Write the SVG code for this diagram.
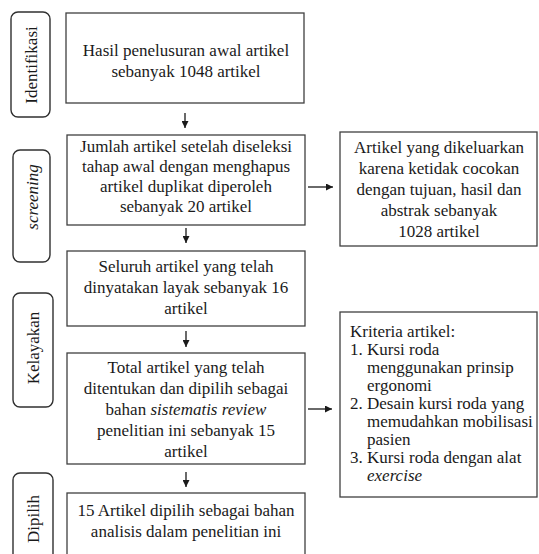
<svg xmlns="http://www.w3.org/2000/svg" width="539" height="554" viewBox="0 0 539 554">
<style>
.box{fill:#fff;stroke:#404040;stroke-width:1.3}
.stage{fill:#fff;stroke:#303030;stroke-width:1.4}
.t{font-family:'Liberation Serif',serif;font-size:17px;fill:#1a1a1a}
.c{text-anchor:middle}
.ln{stroke:#1a1a1a;stroke-width:1.3;fill:none}
</style>
<defs>
<marker id="ah" viewBox="0 0 10 10" refX="10" refY="5" markerWidth="7" markerHeight="7" markerUnits="userSpaceOnUse" orient="auto">
<path d="M0,0 L10,5 L0,10 z" fill="#1a1a1a"/>
</marker>
</defs>
<rect width="539" height="554" fill="#fff"/>
<g id="stage-identifikasi">
<rect class="stage" x="11" y="12" width="39" height="105" rx="7"/>
<text class="t c" transform="translate(37,65) rotate(-90)">Identifikasi</text>
</g>
<g id="stage-screening">
<rect class="stage" x="13" y="150" width="37" height="112" rx="7"/>
<text class="t c" font-style="italic" transform="translate(38,197) rotate(-90)">screening</text>
</g>
<g id="stage-kelayakan">
<rect class="stage" x="13" y="293" width="40" height="114" rx="7"/>
<text class="t c" transform="translate(39,348) rotate(-90)">Kelayakan</text>
</g>
<g id="stage-dipilih">
<rect class="stage" x="13" y="473" width="40" height="100" rx="7"/>
<text class="t c" transform="translate(39,519) rotate(-90)">Dipilih</text>
</g>

<g id="box1">
<rect class="box" x="66" y="13" width="238" height="90"/>
<text class="t c" x="186" y="56">Hasil penelusuran awal artikel</text>
<text class="t c" x="186" y="77">sebanyak 1048 artikel</text>
</g>
<g id="box2">
<rect class="box" x="67" y="135" width="238" height="90"/>
<text class="t c" x="186" y="152">Jumlah artikel setelah diseleksi</text>
<text class="t c" x="186" y="172">tahap awal dengan menghapus</text>
<text class="t c" x="186" y="192">artikel duplikat diperoleh</text>
<text class="t c" x="186" y="212">sebanyak 20 artikel</text>
</g>
<g id="box3">
<rect class="box" x="67" y="251" width="238" height="75"/>
<text class="t c" x="186" y="272">Seluruh artikel yang telah</text>
<text class="t c" x="186" y="293">dinyatakan layak sebanyak 16</text>
<text class="t c" x="186" y="314">artikel</text>
</g>
<g id="box4">
<rect class="box" x="67" y="353" width="238" height="111"/>
<text class="t c" x="186" y="373">Total artikel yang telah</text>
<text class="t c" x="186" y="394">ditentukan dan dipilih sebagai</text>
<text class="t c" x="186" y="415">bahan <tspan font-style="italic">sistematis review</tspan></text>
<text class="t c" x="186" y="436">penelitian ini sebanyak 15</text>
<text class="t c" x="186" y="457">artikel</text>
</g>
<g id="box5">
<rect class="box" x="67" y="493" width="238" height="80"/>
<text class="t c" x="186" y="516">15 Artikel dipilih sebagai bahan</text>
<text class="t c" x="186" y="537">analisis dalam penelitian ini</text>
</g>
<g id="box-excluded">
<rect class="box" x="340" y="132" width="197" height="114"/>
<text class="t c" x="439" y="153">Artikel yang dikeluarkan</text>
<text class="t c" x="439" y="174">karena ketidak cocokan</text>
<text class="t c" x="439" y="195">dengan tujuan, hasil dan</text>
<text class="t c" x="439" y="216">abstrak sebanyak</text>
<text class="t c" x="439" y="237">1028 artikel</text>
</g>
<g id="box-criteria">
<rect class="box" x="340" y="312" width="197" height="185"/>
<text class="t" x="350" y="337">Kriteria artikel:</text>
<text class="t" x="350" y="355">1.</text>
<text class="t" x="367" y="355">Kursi roda</text>
<text class="t" x="367" y="373">menggunakan prinsip</text>
<text class="t" x="367" y="391">ergonomi</text>
<text class="t" x="350" y="409">2.</text>
<text class="t" x="367" y="409">Desain  kursi roda yang</text>
<text class="t" x="367" y="427">memudahkan mobilisasi</text>
<text class="t" x="367" y="445">pasien</text>
<text class="t" x="350" y="463">3.</text>
<text class="t" x="367" y="463">Kursi roda dengan alat</text>
<text class="t" x="367" y="481" font-style="italic">exercise</text>
</g>
<g id="connectors">
<line class="ln" x1="185" y1="113" x2="185" y2="128" marker-end="url(#ah)"/>
<line class="ln" x1="186" y1="228" x2="186" y2="243" marker-end="url(#ah)"/>
<line class="ln" x1="186" y1="331" x2="186" y2="347" marker-end="url(#ah)"/>
<line class="ln" x1="186" y1="472" x2="186" y2="487" marker-end="url(#ah)"/>
<line class="ln" x1="308" y1="187" x2="333" y2="187" marker-end="url(#ah)"/>
<line class="ln" x1="308" y1="409" x2="332" y2="409" marker-end="url(#ah)"/>
</g>
</svg>
